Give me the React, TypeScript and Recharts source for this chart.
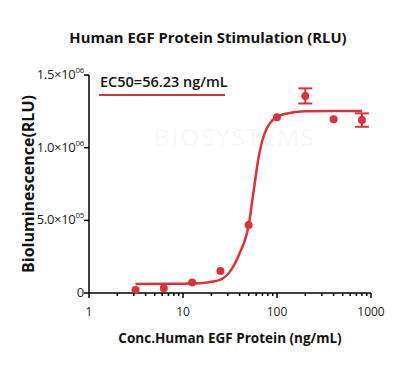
import React from "react";
import { ComposedChart, Line, Scatter, ErrorBar, XAxis, YAxis, Label } from "recharts";

// measured points
const conc = [3.125, 6.25, 12.5, 25, 50, 100, 200, 400, 800];
const rlu = [21000, 33000, 72000, 152000, 468000, 1209000, 1356000, 1195000, 1190000];
const rluErr = [0, 0, 0, 0, 0, 0, 52000, 0, 46000];

// fitted curve
const fitConc = [3.125, 6.25, 12.5, 18, 25, 31.6, 40, 50, 56, 63, 74, 100, 140, 200, 400, 800];
const fitRlu = [62000, 63000, 65000, 73000, 92000, 147000, 273000, 468000, 686000, 915000, 1100000, 1213000, 1240000, 1250000, 1253000, 1253000];

const xTicks = [1, 2, 3, 4, 5, 6, 7, 8, 9, 10, 20, 30, 40, 50, 60, 70, 80, 90, 100, 200, 300, 400, 500, 600, 700, 800, 900, 1000];
const yTicks = [0, 500000, 1000000, 1500000];
const yTickText: Record<number, [string, string]> = {
  0: ["0", ""],
  500000: ["5.0×10", "05"],
  1000000: ["1.0×10", "06"],
  1500000: ["1.5×10", "06"],
};

const RED = "#d7343a";
const FONT = "'Open Sans', sans-serif";

const points = conc.map((c, i) => ({ x: c, y: rlu[i], err: rluErr[i] }));
const fit = fitConc.map((c, i) => ({ x: c, y: fitRlu[i] }));

const isMajor = (v: number) => [1, 10, 100, 1000].includes(v);

function XTick(props: any) {
  const { x, y, payload } = props;
  const major = isMajor(payload.value);
  return (
    <g>
      <line x1={x} x2={x} y1={y} y2={y + (major ? 5 : 3)} stroke="#000" strokeWidth={1.5} />
      {major && (
        <text x={x} y={y + 23} textAnchor="middle" fontSize={12} fill="#222" fontFamily={FONT}>
          {payload.value}
        </text>
      )}
    </g>
  );
}

function YTick(props: any) {
  const { x, y, payload } = props;
  const [base, sup] = yTickText[payload.value] || [String(payload.value), ""];
  return (
    <g>
      <line x1={x - 5} x2={x} y1={y} y2={y} stroke="#000" strokeWidth={1.5} />
      <text x={x - 5} y={y + 4} textAnchor="end" fontSize={13} fill="#222" fontFamily={FONT} letterSpacing={-0.3}>
        {base}
        {sup && (
          <tspan dy={-6} fontSize={8}>
            {sup}
          </tspan>
        )}
      </text>
    </g>
  );
}

export default function App() {
  return (
    <div style={{ position: "absolute", left: 0, top: 0, width: 400, height: 369, background: "#fff", fontFamily: FONT }}>
      <div
        style={{
          position: "absolute",
          top: 27,
          left: 0,
          width: 416,
          textAlign: "center",
          fontSize: 14.8,
          fontWeight: 700,
          color: "#111",
        }}
      >
        Human EGF Protein Stimulation (RLU)
      </div>
      <div style={{ position: "absolute", left: 100, top: 72, fontSize: 14.5, fontWeight: 600, color: "#111" }}>
        EC50=56.23 ng/mL
      </div>
      <div style={{ position: "absolute", left: 99, top: 94, width: 126, height: 1.5, background: RED }} />
      <ComposedChart width={400} height={369} margin={{ top: 75, right: 29, bottom: 46, left: 29 }}>
        <text x={235} y={146} textAnchor="middle" fontSize={24} fill="#f8f8f8" fontFamily={FONT} letterSpacing={2}>
          BIOSYSTEMS
        </text>
        <XAxis
          dataKey="x"
          type="number"
          scale="log"
          domain={[1, 1000]}
          ticks={xTicks}
          interval={0}
          allowDataOverflow
          height={30}
          tickSize={0}
          tickMargin={0}
          tickLine={false}
          tick={<XTick />}
          axisLine={{ stroke: "#000", strokeWidth: 1.5 }}
        >
          <Label
            value="Conc.Human EGF Protein (ng/mL)"
            position="insideBottom"
            offset={-20}
            style={{ fontSize: 13.5, fontWeight: 700, fill: "#111", fontFamily: FONT }}
          />
        </XAxis>
        <YAxis
          dataKey="y"
          type="number"
          domain={[0, 1500000]}
          ticks={yTicks}
          interval={0}
          width={60}
          tickSize={0}
          tickMargin={0}
          tickLine={false}
          tick={<YTick />}
          axisLine={{ stroke: "#000", strokeWidth: 1.5 }}
        >
          <Label
            value="Bioluminescence(RLU)"
            angle={-90}
            position="insideLeft"
            offset={-1}
            style={{ fontSize: 16, fontWeight: 700, fill: "#111", fontFamily: FONT, textAnchor: "middle" }}
          />
        </YAxis>
        <Line
          data={fit}
          dataKey="y"
          type="monotone"
          stroke={RED}
          strokeWidth={2.5}
          dot={false}
          activeDot={false}
          isAnimationActive={false}
        />
        <Scatter data={points} dataKey="y" fill={RED} isAnimationActive={false} shape={(p: any) => <circle cx={p.cx} cy={p.cy} r={4} fill={RED} />}>
          <ErrorBar dataKey="err" direction="y" width={7} stroke={RED} strokeWidth={2} />
        </Scatter>
      </ComposedChart>
    </div>
  );
}
